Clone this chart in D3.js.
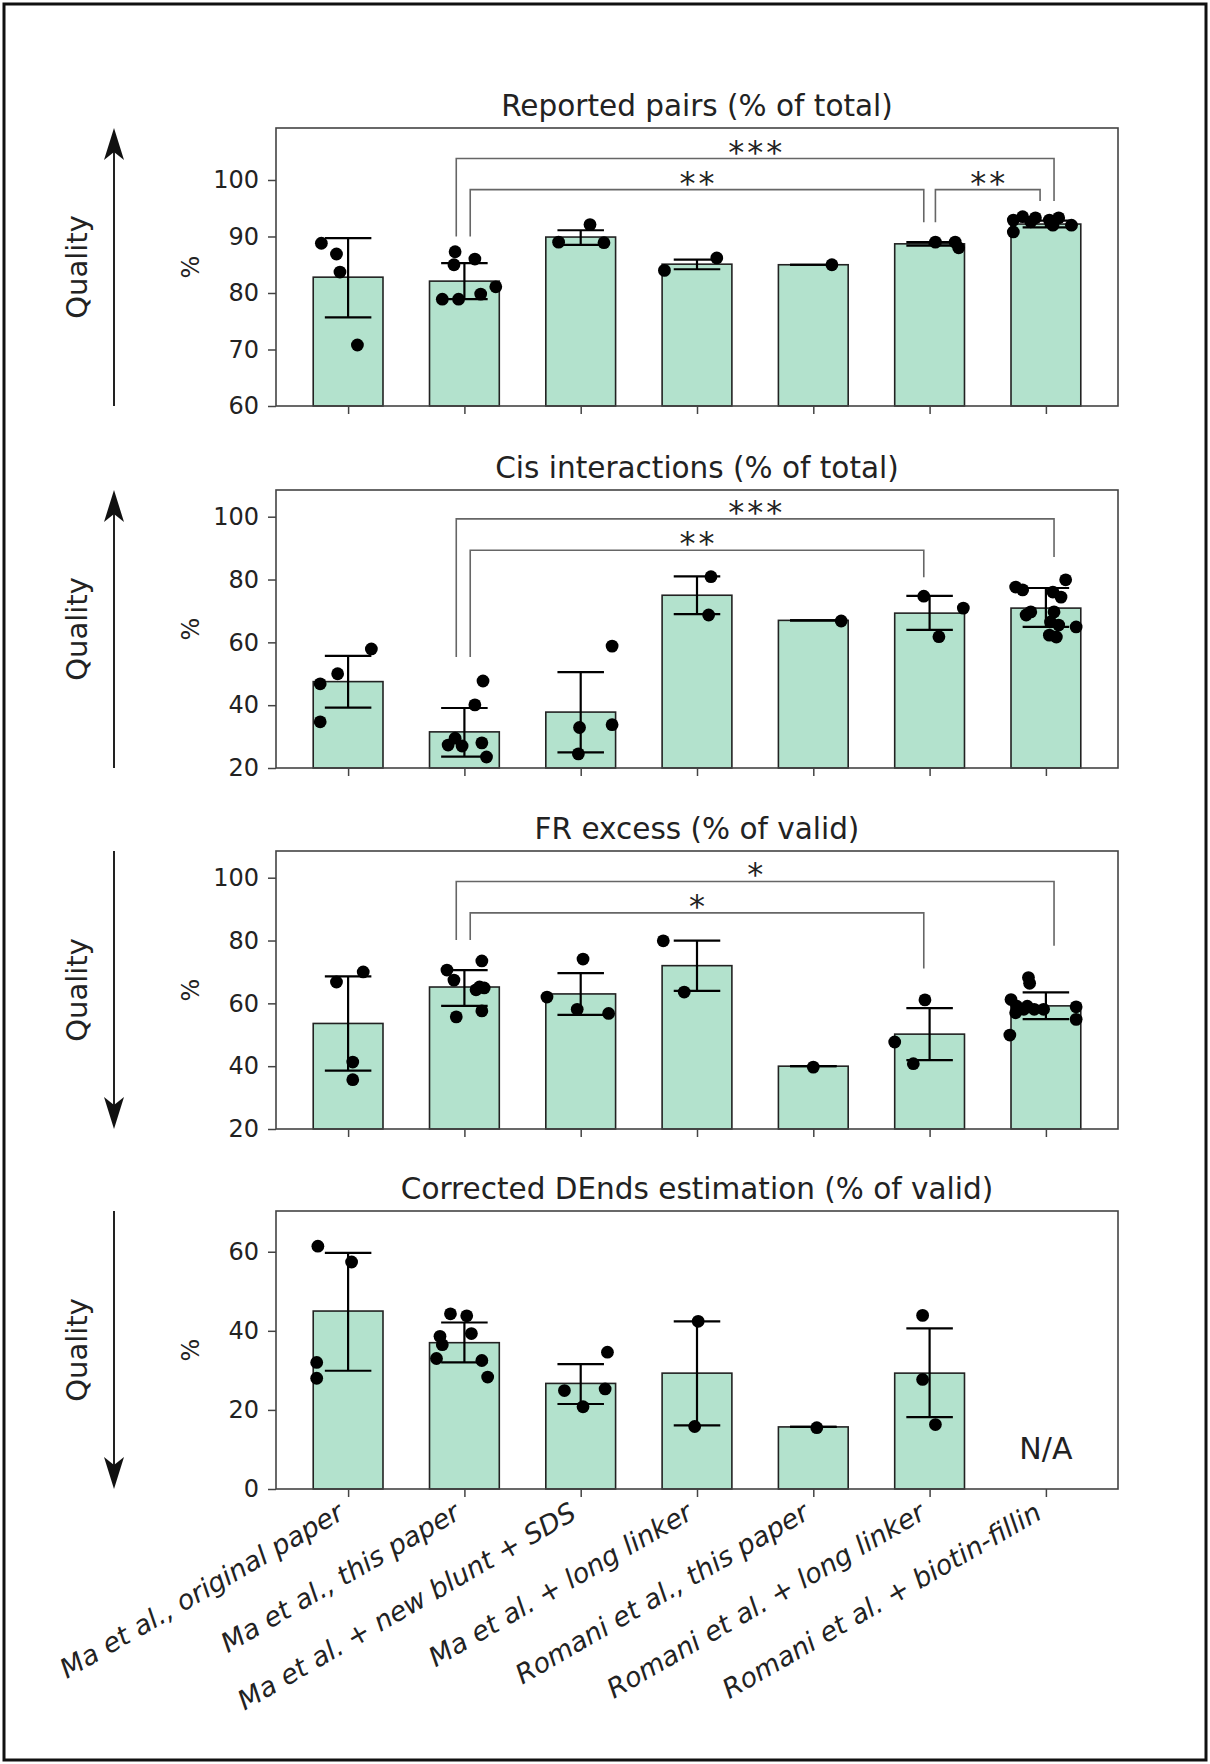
<!DOCTYPE html>
<html>
<head>
<meta charset="utf-8">
<script src="https://cdn.jsdelivr.net/npm/d3@7"></script>
<style>
  body { margin: 0; background: #fff; }
  svg { display: block; font-family: "DejaVu Sans", sans-serif; }
</style>
</head>
<body>
<div id="app"></div>
<script>
const categories = [
  "Ma et al., original paper",
  "Ma et al., this paper",
  "Ma et al. + new blunt + SDS",
  "Ma et al. + long linker",
  "Romani et al., this paper",
  "Romani et al. + long linker",
  "Romani et al. + biotin-fillin"
]

const panelTitles = [
  "Reported pairs (% of total)",
  "Cis interactions (% of total)",
  "FR excess (% of valid)",
  "Corrected DEnds estimation (% of valid)"
]
// direction of the "Quality" arrow for each panel
const qualityDirection = ["up", "up", "down", "down"]

const yDomains = [[60, 109.2], [20, 108.5], [20, 108.5], [0, 70.3]]
const yTicks = [[60, 70, 80, 90, 100], [20, 40, 60, 80, 100], [20, 40, 60, 80, 100], [0, 20, 40, 60]]

// Reported pairs
const reportedMeans = [82.8, 82.1, 89.9, 85.1, 85.0, 88.7, 92.2]
const reportedLo = [75.7, 78.9, 88.5, 84.2, 85.0, 88.4, 91.6]
const reportedHi = [89.7, 85.3, 91.1, 85.9, 85.0, 89.0, 92.8]
// [bar, jitter, value]
const reportedPoints = [
  [0, -0.23, 88.8], [0, -0.10, 86.9], [0, -0.07, 83.7], [0, 0.08, 70.8],
  [1, -0.08, 87.3], [1, -0.09, 85.0], [1, 0.09, 86.0], [1, -0.19, 78.9], [1, -0.05, 78.9], [1, 0.14, 79.8], [1, 0.27, 81.1],
  [2, -0.19, 89.0], [2, 0.08, 92.1], [2, 0.20, 88.9],
  [3, -0.28, 84.0], [3, 0.17, 86.2],
  [4, 0.16, 85.0],
  [5, 0.05, 89.0], [5, 0.22, 89.0], [5, 0.25, 88.0],
  [6, -0.28, 92.9], [6, -0.28, 90.8], [6, -0.20, 93.5], [6, -0.13, 92.6], [6, -0.09, 93.3],
  [6, 0.03, 92.9], [6, 0.06, 92.0], [6, 0.11, 93.3], [6, 0.22, 92.0]
]
// [from, to, line level, left leg end, right leg end, outer?, label]
const reportedBrackets = [
  [1, 6, 103.8, 90.0, 96.3, true, "***"],
  [1, 5, 98.3, 90.0, 92.5, false, "**"],
  [5, 6, 98.3, 92.5, 96.3, false, "**"]
]

// Cis interactions
const cisMeans = [47.5, 31.5, 37.8, 75.0, 67.0, 69.3, 70.9]
const cisLo = [39.2, 23.6, 25.0, 69.0, 67.0, 64.0, 64.9]
const cisHi = [55.7, 39.1, 50.5, 81.0, 67.0, 74.8, 77.3]
const cisPoints = [
  [0, -0.24, 46.8], [0, -0.09, 50.0], [0, 0.20, 57.9], [0, -0.24, 34.7],
  [1, 0.16, 47.7], [1, 0.09, 40.1], [1, -0.14, 27.3], [1, -0.08, 29.5], [1, -0.02, 27.0], [1, 0.15, 28.0], [1, 0.19, 23.5],
  [2, 0.27, 58.8], [2, 0.27, 33.8], [2, -0.01, 32.9], [2, -0.02, 24.5],
  [3, 0.12, 80.9], [3, 0.10, 68.7],
  [4, 0.24, 66.8],
  [5, -0.05, 74.7], [5, 0.29, 70.9], [5, 0.08, 61.8],
  [6, -0.26, 77.6], [6, -0.20, 76.7], [6, 0.17, 79.9], [6, 0.06, 76.0], [6, 0.13, 74.4], [6, -0.17, 68.7], [6, -0.13, 69.7],
  [6, 0.07, 69.7], [6, 0.04, 66.5], [6, 0.11, 65.5], [6, 0.26, 64.9], [6, 0.03, 62.3], [6, 0.09, 61.7]
]
const cisBrackets = [
  [1, 6, 99.3, 55.3, 87.2, true, "***"],
  [1, 5, 89.3, 55.3, 80.7, false, "**"]
]

// FR excess
const frMeans = [53.6, 65.2, 63.0, 72.0, 40.0, 50.2, 59.2]
const frLo = [38.6, 59.2, 56.3, 64.0, 40.0, 41.9, 55.0]
const frHi = [68.6, 70.6, 69.6, 80.0, 40.0, 58.5, 63.5]
const frPoints = [
  [0, -0.10, 66.8], [0, 0.13, 70.0], [0, 0.04, 41.3], [0, 0.04, 35.7],
  [1, 0.15, 73.5], [1, -0.15, 70.6], [1, -0.09, 67.4], [1, 0.13, 65.2], [1, 0.17, 64.9], [1, 0.10, 64.3], [1, 0.15, 57.6], [1, -0.07, 55.7],
  [2, 0.02, 74.1], [2, -0.29, 62.0], [2, -0.03, 58.1], [2, 0.24, 56.8],
  [3, -0.29, 79.9], [3, -0.11, 63.6],
  [4, 0.00, 39.7],
  [5, -0.04, 61.1], [5, -0.30, 47.7], [5, -0.14, 40.8],
  [6, -0.15, 68.2], [6, -0.14, 66.4], [6, -0.30, 61.2], [6, -0.25, 59.1], [6, -0.31, 49.9], [6, -0.19, 58.1],
  [6, -0.10, 58.1], [6, -0.02, 58.1], [6, 0.26, 58.9], [6, 0.26, 54.9], [6, -0.26, 57.0], [6, -0.16, 59.1]
]
const frBrackets = [
  [1, 6, 98.8, 80.2, 78.3, true, "*"],
  [1, 5, 88.8, 80.2, 71.1, false, "*"]
]

// Corrected DEnds estimation (last condition not available)
const dendsMeans = [45.0, 37.0, 26.7, 29.3, 15.7, 29.3, null]
const dendsLo = [29.9, 32.0, 21.5, 16.1, 15.7, 18.2, null]
const dendsHi = [59.7, 42.1, 31.6, 42.4, 15.7, 40.6, null]
const dendsPoints = [
  [0, -0.26, 61.4], [0, 0.03, 57.4], [0, -0.27, 32.0], [0, -0.27, 28.0],
  [1, -0.12, 44.3], [1, 0.02, 43.8], [1, -0.21, 38.6], [1, -0.19, 36.5], [1, 0.06, 39.3], [1, -0.24, 33.0], [1, 0.15, 32.5], [1, 0.20, 28.3],
  [2, 0.23, 34.6], [2, -0.14, 24.9], [2, 0.21, 25.3], [2, 0.02, 20.8],
  [3, 0.01, 42.4], [3, -0.02, 15.8],
  [4, 0.03, 15.5],
  [5, -0.06, 43.9], [5, -0.06, 27.7], [5, 0.05, 16.3]
]
const dendsBrackets = []
const dendsMissing = [[6, 10.2, "N/A"]]

const panels = [
  { means: reportedMeans, lo: reportedLo, hi: reportedHi, points: reportedPoints, brackets: reportedBrackets, missing: [] },
  { means: cisMeans, lo: cisLo, hi: cisHi, points: cisPoints, brackets: cisBrackets, missing: [] },
  { means: frMeans, lo: frLo, hi: frHi, points: frPoints, brackets: frBrackets, missing: [] },
  { means: dendsMeans, lo: dendsLo, hi: dendsHi, points: dendsPoints, brackets: dendsBrackets, missing: dendsMissing }
]

// Layout
const width = 1210
const height = 1764
const marginLeft = 276
const marginRight = 1118
const panelTops = [128, 490, 851, 1211]
const panelHeight = 278
const barWidth = 0.6
const capHalf = 0.2
const textColor = "#222"

const svg = d3.select("#app").append("svg")
  .attr("width", width)
  .attr("height", height)

// outer border of the figure
svg.append("rect")
  .attr("x", 4).attr("y", 4)
  .attr("width", width - 8).attr("height", height - 8)
  .attr("fill", "none").attr("stroke", "#111").attr("stroke-width", 3)

const x = d3.scaleLinear()
  .domain([-0.62, 6.62])
  .range([marginLeft, marginRight])

panels.forEach((p, k) => {
  const top = panelTops[k]
  const bottom = top + panelHeight
  const y = d3.scaleLinear().domain(yDomains[k]).range([bottom, top])
  const g = svg.append("g")

  // title
  g.append("text")
    .attr("x", (marginLeft + marginRight) / 2)
    .attr("y", top - 12)
    .attr("text-anchor", "middle")
    .attr("font-size", 29.5)
    .attr("fill", textColor)
    .text(panelTitles[k])

  // bars
  const barIdx = d3.range(p.means.length).filter(i => p.means[i] != null)
  g.selectAll(".bar").data(barIdx).join("rect")
    .attr("x", i => x(i - barWidth / 2))
    .attr("width", x(barWidth) - x(0))
    .attr("y", i => y(p.means[i]))
    .attr("height", i => y(yDomains[k][0]) - y(p.means[i]))
    .attr("fill", "#b3e2cd")
    .attr("stroke", "#222")
    .attr("stroke-width", 1.6)

  // error bars
  const eb = g.selectAll(".err").data(barIdx).join("g").attr("stroke", "#000").attr("stroke-width", 2.2)
  eb.append("line")
    .attr("x1", i => x(i)).attr("x2", i => x(i))
    .attr("y1", i => y(p.lo[i])).attr("y2", i => y(p.hi[i]))
  eb.append("line")
    .attr("x1", i => x(i - capHalf)).attr("x2", i => x(i + capHalf))
    .attr("y1", i => y(p.lo[i])).attr("y2", i => y(p.lo[i]))
  eb.append("line")
    .attr("x1", i => x(i - capHalf)).attr("x2", i => x(i + capHalf))
    .attr("y1", i => y(p.hi[i])).attr("y2", i => y(p.hi[i]))

  // individual replicates
  g.selectAll(".pt").data(p.points).join("circle")
    .attr("cx", d => x(d[0] + d[1]))
    .attr("cy", d => y(d[2]))
    .attr("r", 6.4)
    .attr("fill", "#000")

  // missing data labels
  g.selectAll(".na").data(p.missing).join("text")
    .attr("x", d => x(d[0]))
    .attr("y", d => y(d[1]))
    .attr("dy", "0.36em")
    .attr("text-anchor", "middle")
    .attr("font-size", 30)
    .attr("fill", textColor)
    .text(d => d[2])

  // significance brackets
  p.brackets.forEach(b => {
    const [a, c, level, legA, legC, outer, label] = b
    const xa = x(a + (outer ? -0.07 : 0.05))
    const xc = x(c + (outer ? 0.07 : -0.05))
    g.append("path")
      .attr("d", `M${xa},${y(legA)}V${y(level)}H${xc}V${y(legC)}`)
      .attr("fill", "none")
      .attr("stroke", "#666")
      .attr("stroke-width", 1.6)
    g.append("text")
      .attr("x", (xa + xc) / 2 + 1.5)
      .attr("y", y(level) + 4)
      .attr("text-anchor", "middle")
      .attr("font-size", 32)
      .attr("letter-spacing", 3)
      .attr("fill", textColor)
      .text(label)
  })

  // frame
  g.append("rect")
    .attr("x", marginLeft).attr("y", top)
    .attr("width", marginRight - marginLeft).attr("height", panelHeight)
    .attr("fill", "none").attr("stroke", "#444").attr("stroke-width", 1.6)

  // y axis
  const ya = g.append("g")
    .attr("transform", `translate(${marginLeft},0)`)
    .call(d3.axisLeft(y).tickValues(yTicks[k]).tickSize(8).tickPadding(9))
  ya.select(".domain").remove()
  ya.selectAll("line").attr("stroke", "#444").attr("stroke-width", 1.5)
  ya.selectAll("text").attr("font-size", 24).attr("fill", textColor).attr("font-family", "DejaVu Sans")

  // x axis
  const xa = g.append("g")
    .attr("transform", `translate(0,${bottom})`)
    .call(d3.axisBottom(x).tickValues(d3.range(categories.length)).tickSize(8)
      .tickFormat(i => k === panels.length - 1 ? categories[i] : ""))
  xa.select(".domain").remove()
  xa.selectAll("line").attr("stroke", "#444").attr("stroke-width", 1.5)
  xa.selectAll("text")
    .attr("y", 0).attr("dy", 0)
    .attr("transform", "translate(-3,29) rotate(-30)")
    .attr("text-anchor", "end")
    .attr("font-size", 27)
    .attr("font-style", "italic")
    .attr("font-family", "DejaVu Sans")
    .attr("fill", textColor)

  // "%" axis label
  g.append("text")
    .attr("transform", `translate(191,${(top + bottom) / 2}) rotate(-90)`)
    .attr("text-anchor", "middle")
    .attr("dy", "0.35em")
    .attr("font-size", 24)
    .attr("fill", textColor)
    .text("%")

  // "Quality" label and arrow
  g.append("text")
    .attr("transform", `translate(77,${(top + bottom) / 2}) rotate(-90)`)
    .attr("text-anchor", "middle")
    .attr("dy", "0.35em")
    .attr("font-size", 29)
    .attr("fill", textColor)
    .text("Quality")

  const up = qualityDirection[k] === "up"
  const tipY = up ? top : bottom
  const tailY = up ? bottom : top
  const s = up ? 1 : -1
  const ax = 114
  g.append("line")
    .attr("x1", ax).attr("x2", ax)
    .attr("y1", tailY).attr("y2", tipY + s * 20)
    .attr("stroke", "#222").attr("stroke-width", 2)
  g.append("path")
    .attr("d", `M${ax},${tipY}L${ax - 10},${tipY + s * 32}L${ax},${tipY + s * 24}L${ax + 10},${tipY + s * 32}Z`)
    .attr("fill", "#111")
})
</script>
</body>
</html>
